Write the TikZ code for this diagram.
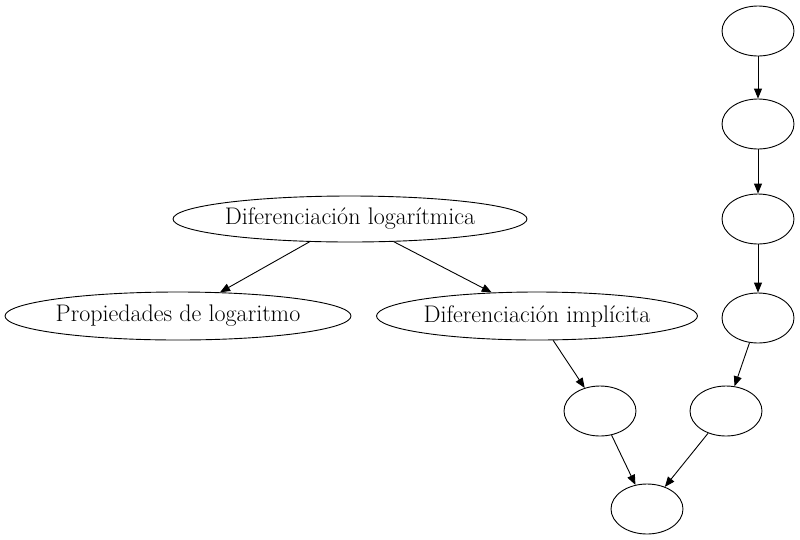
\documentclass[tikz,border=0pt]{standalone}
\usetikzlibrary{shapes.geometric,arrows.meta}
\begin{document}
\begin{tikzpicture}[x=1pt,y=-1pt,
  ell/.style={draw,ellipse,line width=0.9pt,inner sep=0pt,font=\fontsize{24}{28}\selectfont},
  small/.style={ell,minimum width=72pt,minimum height=50pt},
  edge/.style={draw,line width=0.9pt,-{Triangle[length=10pt,width=8pt]}}]
\useasboundingbox (0,0) rectangle (800,539);
\node[small] (a) at (758,31) {};
\node[small] (b) at (758,124) {};
\node[small] (c) at (758,219) {};
\node[small] (d) at (758,318) {};
\node[small] (e) at (726,411) {};
\node[small] (f) at (600,411) {};
\node[small] (g) at (647,509) {};
\node[ell,minimum width=354pt,minimum height=46pt] (dl) at (350,219) {Diferenciación logarítmica};
\node[ell,minimum width=346pt,minimum height=48pt] (pl) at (178,316) {Propiedades de logaritmo};
\node[ell,minimum width=320pt,minimum height=48pt] (di) at (537,316) {Diferenciación implícita};
\draw[edge] (a) -- (b);
\draw[edge] (b) -- (c);
\draw[edge] (c) -- (d);
\draw[edge] (d) -- (e);
\draw[edge] (e) -- (g);
\draw[edge] (f) -- (g);
\draw[edge] (dl) -- (pl);
\draw[edge] (dl) -- (di);
\draw[edge] (di) -- (f);
\end{tikzpicture}
\end{document}
